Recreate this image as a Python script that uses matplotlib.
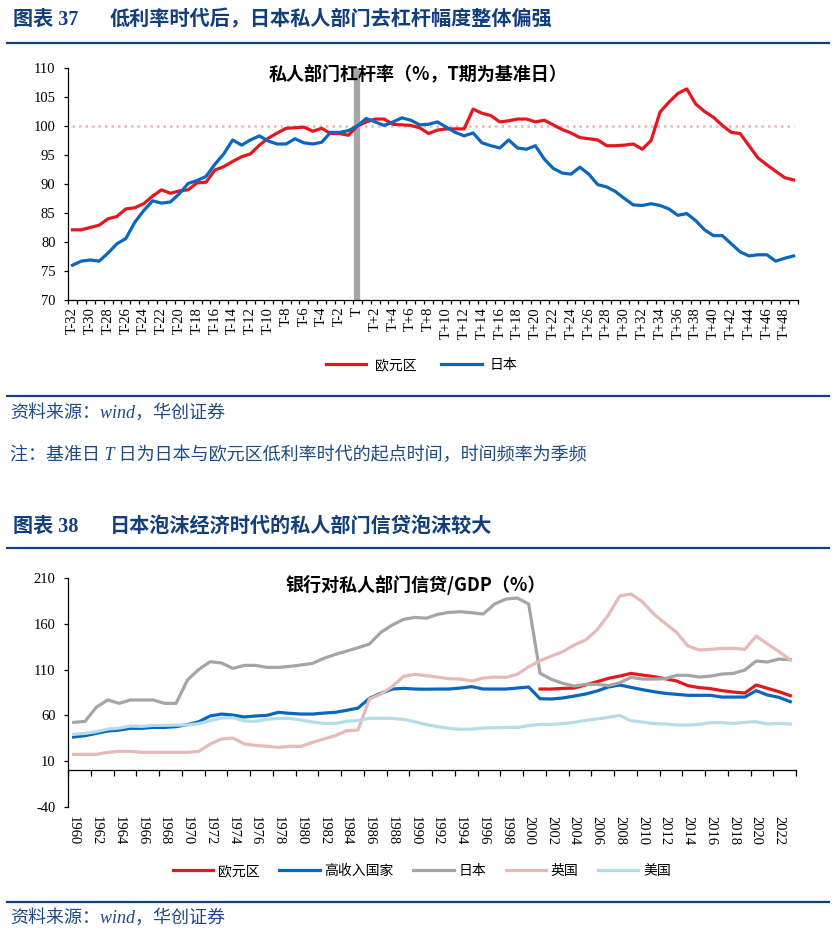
import numpy as np
import matplotlib
matplotlib.use('Agg')
import matplotlib.pyplot as plt
from matplotlib.lines import Line2D

plt.rcParams['font.family'] = ['Liberation Serif', 'Noto Sans CJK SC']
plt.rcParams['axes.unicode_minus'] = False

W, H = 836, 939
NAVY = '#123F7B'
TEXT_BLUE = '#1E4A86'
CJK = ['Noto Sans CJK SC', 'DejaVu Sans']

# chart 37: private sector leverage, T = base quarter (=100)
periods = ['T' if k == 0 else 'T%+d' % k for k in range(-32, 50)]
base_period = 'T'
base_level = 100
euro_lev = [82.1, 82.1, 82.5, 82.9, 84.0, 84.4, 85.7, 85.9, 86.6, 87.9,
            89.0, 88.4, 88.8, 89.0, 90.2, 90.3, 92.4, 93.0, 93.9, 94.7,
            95.2, 96.7, 97.9, 98.8, 99.6, 99.7, 99.8, 99.1, 99.6, 98.7,
            98.7, 98.4, 100.0, 100.7, 101.2, 101.2, 100.3, 100.2, 100.1, 99.7,
            98.7, 99.3, 99.5, 99.5, 99.5, 102.9, 102.2, 101.8, 100.7, 100.9,
            101.2, 101.2, 100.7, 101.0, 100.2, 99.4, 98.8, 98.0, 97.8, 97.6,
            96.6, 96.6, 96.7, 96.9, 96.0, 97.5, 102.4, 104.1, 105.6, 106.4,
            103.8, 102.5, 101.5, 100.1, 98.9, 98.7, 96.6, 94.5, 93.3, 92.2,
            91.1, 90.7]
japan_lev = [76.0, 76.7, 76.9, 76.7, 78.1, 79.7, 80.6, 83.4, 85.4, 87.1,
             86.7, 86.9, 88.3, 90.1, 90.6, 91.3, 93.4, 95.2, 97.6, 96.7,
             97.6, 98.3, 97.4, 96.9, 96.9, 97.8, 97.1, 96.9, 97.2, 98.9,
             98.9, 99.2, 100.0, 101.3, 100.7, 100.1, 100.7, 101.4, 101.0, 100.2,
             100.3, 100.7, 99.8, 98.9, 98.3, 98.8, 97.1, 96.6, 96.2, 97.6,
             96.2, 96.0, 96.6, 94.3, 92.7, 91.9, 91.7, 92.9, 91.7, 89.9,
             89.5, 88.7, 87.5, 86.4, 86.3, 86.6, 86.3, 85.7, 84.6, 84.9,
             83.7, 82.1, 81.1, 81.1, 79.7, 78.3, 77.6, 77.8, 77.8, 76.7,
             77.2, 77.6]

# chart 38: bank credit to private sector / GDP (%)
years = list(range(1960, 2024))
credit_euro = [np.nan] * 41 + [
    88.8, 88.8, 89.5, 89.9, 93.2, 96.8, 100.5, 103.0, 105.9, 104.1,
    102.3, 100.1, 97.6, 92.5, 90.3, 89.2, 87.0, 85.5, 84.4, 93.2,
    89.5, 85.9, 81.5]
credit_high = [36.3, 37.7, 40.3, 42.8, 43.9, 45.8, 45.8, 46.8, 46.8, 47.6,
               49.8, 53.0, 59.3, 61.4, 60.3, 58.2, 59.3, 60.0, 63.3, 62.2,
               61.4, 61.4, 62.5, 63.3, 65.5, 68.0, 78.6, 84.1, 88.8, 89.5,
               88.8, 88.6, 88.8, 88.8, 89.9, 91.4, 88.8, 88.8, 88.8, 89.9,
               91.0, 78.2, 77.9, 79.0, 81.1, 83.3, 86.6, 91.0, 93.2, 90.6,
               88.1, 85.9, 84.1, 83.0, 81.9, 81.9, 81.9, 80.0, 80.0, 80.0,
               87.0, 82.2, 79.7, 74.9]
credit_japan = [52.3, 53.4, 69.1, 76.8, 73.1, 76.8, 76.8, 76.8, 73.1, 73.1,
                98.7, 110.3, 118.7, 117.3, 111.4, 114.7, 114.7, 112.5, 112.5, 113.6,
                115.1, 116.9, 122.4, 126.7, 130.4, 134.0, 138.1, 150.8, 158.8, 165.1,
                167.2, 166.3, 170.5, 172.7, 173.4, 172.3, 170.9, 181.8, 187.3, 188.4,
                181.8, 106.0, 99.4, 95.0, 92.1, 93.9, 93.9, 92.5, 95.7, 101.6,
                99.7, 99.7, 100.1, 103.8, 103.8, 101.9, 103.0, 105.2, 106.0, 109.6,
                119.4, 118.4, 121.6, 120.9]
credit_uk = [17.3, 17.3, 17.3, 19.5, 20.6, 20.6, 19.5, 19.5, 19.5, 19.5,
             19.5, 20.6, 28.6, 34.1, 35.2, 28.6, 27.1, 26.1, 25.0, 26.1,
             26.1, 30.4, 34.1, 37.7, 43.2, 43.9, 77.9, 83.3, 91.4, 102.7,
             104.9, 103.4, 101.9, 100.1, 99.7, 97.6, 100.8, 101.9, 101.6, 104.9,
             113.2, 119.8, 124.9, 129.7, 137.0, 142.4, 153.4, 169.8, 190.6, 192.8,
             184.4, 170.9, 160.7, 150.8, 135.9, 131.5, 132.2, 133.3, 133.3, 132.2,
             146.8, 138.1, 129.7, 120.5]
credit_us = [39.2, 40.3, 42.1, 45.0, 46.1, 48.3, 47.9, 49.0, 49.0, 49.4,
             49.4, 50.9, 54.1, 57.1, 57.4, 53.8, 53.4, 55.6, 56.7, 56.7,
             54.9, 52.7, 51.2, 51.2, 53.4, 54.5, 56.7, 56.7, 56.7, 55.6,
             53.0, 49.8, 47.6, 45.8, 44.7, 45.0, 46.1, 46.5, 46.8, 46.8,
             48.7, 50.1, 50.1, 50.9, 52.3, 54.5, 56.0, 57.8, 60.0, 54.1,
             52.7, 50.9, 50.5, 49.4, 49.4, 50.1, 52.0, 52.0, 51.2, 52.3,
             53.0, 50.5, 51.2, 50.5]

credit_series = [('欧元区', credit_euro, '#E5161E'),
                 ('高收入国家', credit_high, '#0B66BD'),
                 ('日本', credit_japan, '#A5A5A5'),
                 ('英国', credit_uk, '#E8B9B9'),
                 ('美国', credit_us, '#B5DDE8')]


def fx(px):
    return px / W


def fy(py):
    return 1 - py / H


def hline(fig, py, x0=7, x1=829):
    fig.add_artist(Line2D([fx(x0), fx(x1)], [fy(py), fy(py)], transform=fig.transFigure,
                          color=NAVY, lw=1.6))


def header(fig, py, number, title):
    fig.text(fx(13), fy(py), '图表 ' + number, fontsize=14.5, fontweight='bold', color=NAVY, va='center')
    fig.text(fx(110), fy(py), title, fontsize=14.5, fontweight='bold', color=NAVY, va='center')


def source(fig, py, text):
    fig.text(fx(10), fy(py), text, fontsize=13, style='italic', color=TEXT_BLUE, va='center')


def style_axes(ax):
    ax.spines['top'].set_visible(False)
    ax.spines['right'].set_visible(False)
    for s in ['left', 'bottom']:
        ax.spines[s].set_linewidth(0.9)
    ax.tick_params(axis='y', direction='out', length=3, width=0.9, pad=6, labelsize=10.5)


def draw_leverage(fig):
    ax = fig.add_axes([fx(68), fy(300), fx(730), 232 / H])
    x = np.arange(len(periods))
    ax.axvline(periods.index(base_period), color='#A6A6A6', lw=4.5, zorder=1)
    ax.hlines(base_level, x[0], x[-1], colors='#F0B4B4', lw=1.8, linestyles=(0, (1, 1.6)), zorder=2)
    l1, = ax.plot(x, euro_lev, color='#E5161E', lw=2.3, zorder=3)
    l2, = ax.plot(x, japan_lev, color='#0B66BD', lw=2.3, zorder=3)
    ax.set_xlim(-0.5, len(periods) - 0.5)
    ax.set_ylim(70, 110)
    ax.set_yticks(np.arange(70, 111, 5))
    style_axes(ax)
    ax.set_xticks(x[::2], periods[::2])
    ax.set_xticks(np.arange(-0.5, len(periods), 1), minor=True)
    ax.tick_params(axis='x', which='major', length=0, pad=5, labelsize=10.5, labelrotation=90)
    ax.tick_params(axis='x', which='minor', direction='out', length=3, width=0.9)
    fig.text(fx(418), fy(74), '私人部门杠杆率（%，T期为基准日）', family=CJK, fontsize=13,
             fontweight='bold', ha='center', va='center')
    fig.legend([l1, l2], ['欧元区', '日本'], loc='center', bbox_to_anchor=(fx(422), fy(365)),
               ncol=2, frameon=False, prop={'family': CJK, 'size': 10},
               handlelength=2.9, handletextpad=0.6, columnspacing=1.8)


def draw_credit(fig):
    ax = fig.add_axes([fx(68), fy(806.7), fx(728), 228.4 / H])
    x = np.arange(len(years))
    handles = []
    for name, values, color in credit_series:
        line, = ax.plot(x, values, color=color, lw=2.3, label=name)
        handles.append(line)
    ax.set_xlim(-0.5, len(years) - 0.5)
    ax.set_ylim(-40, 210)
    ax.set_yticks(np.arange(-40, 211, 50))
    style_axes(ax)
    ax.spines['bottom'].set_position(('data', 0))
    ax.set_xticks(np.arange(-0.5, len(years), 2), [])
    ax.tick_params(axis='x', direction='out', length=4, width=0.9)
    sec = ax.secondary_xaxis('bottom')
    sec.set_xticks(x[::2], [str(y) for y in years[::2]])
    sec.spines['bottom'].set_visible(False)
    sec.tick_params(axis='x', length=0, pad=7, labelsize=10.5, labelrotation=270)
    fig.text(fx(416), fy(585), '银行对私人部门信贷/GDP（%）', family=CJK, fontsize=13,
             fontweight='bold', ha='center', va='center')
    fig.legend(handles, [h.get_label() for h in handles], loc='center',
               bbox_to_anchor=(fx(422), fy(871)), ncol=5, frameon=False,
               prop={'family': CJK, 'size': 10}, handlelength=2.9,
               handletextpad=0.35, columnspacing=1.4)


def main():
    fig = plt.figure(figsize=(W / 100, H / 100), dpi=100)
    header(fig, 20, '37', '低利率时代后，日本私人部门去杠杆幅度整体偏强')
    hline(fig, 43)
    draw_leverage(fig)
    hline(fig, 396)
    source(fig, 413, '资料来源：wind，华创证券')
    source(fig, 455, '注：基准日 T 日为日本与欧元区低利率时代的起点时间，时间频率为季频')
    header(fig, 527, '38', '日本泡沫经济时代的私人部门信贷泡沫较大')
    hline(fig, 548)
    draw_credit(fig)
    hline(fig, 902)
    source(fig, 918, '资料来源：wind，华创证券')
    fig.savefig('out.png', dpi=100)


if __name__ == '__main__':
    main()
